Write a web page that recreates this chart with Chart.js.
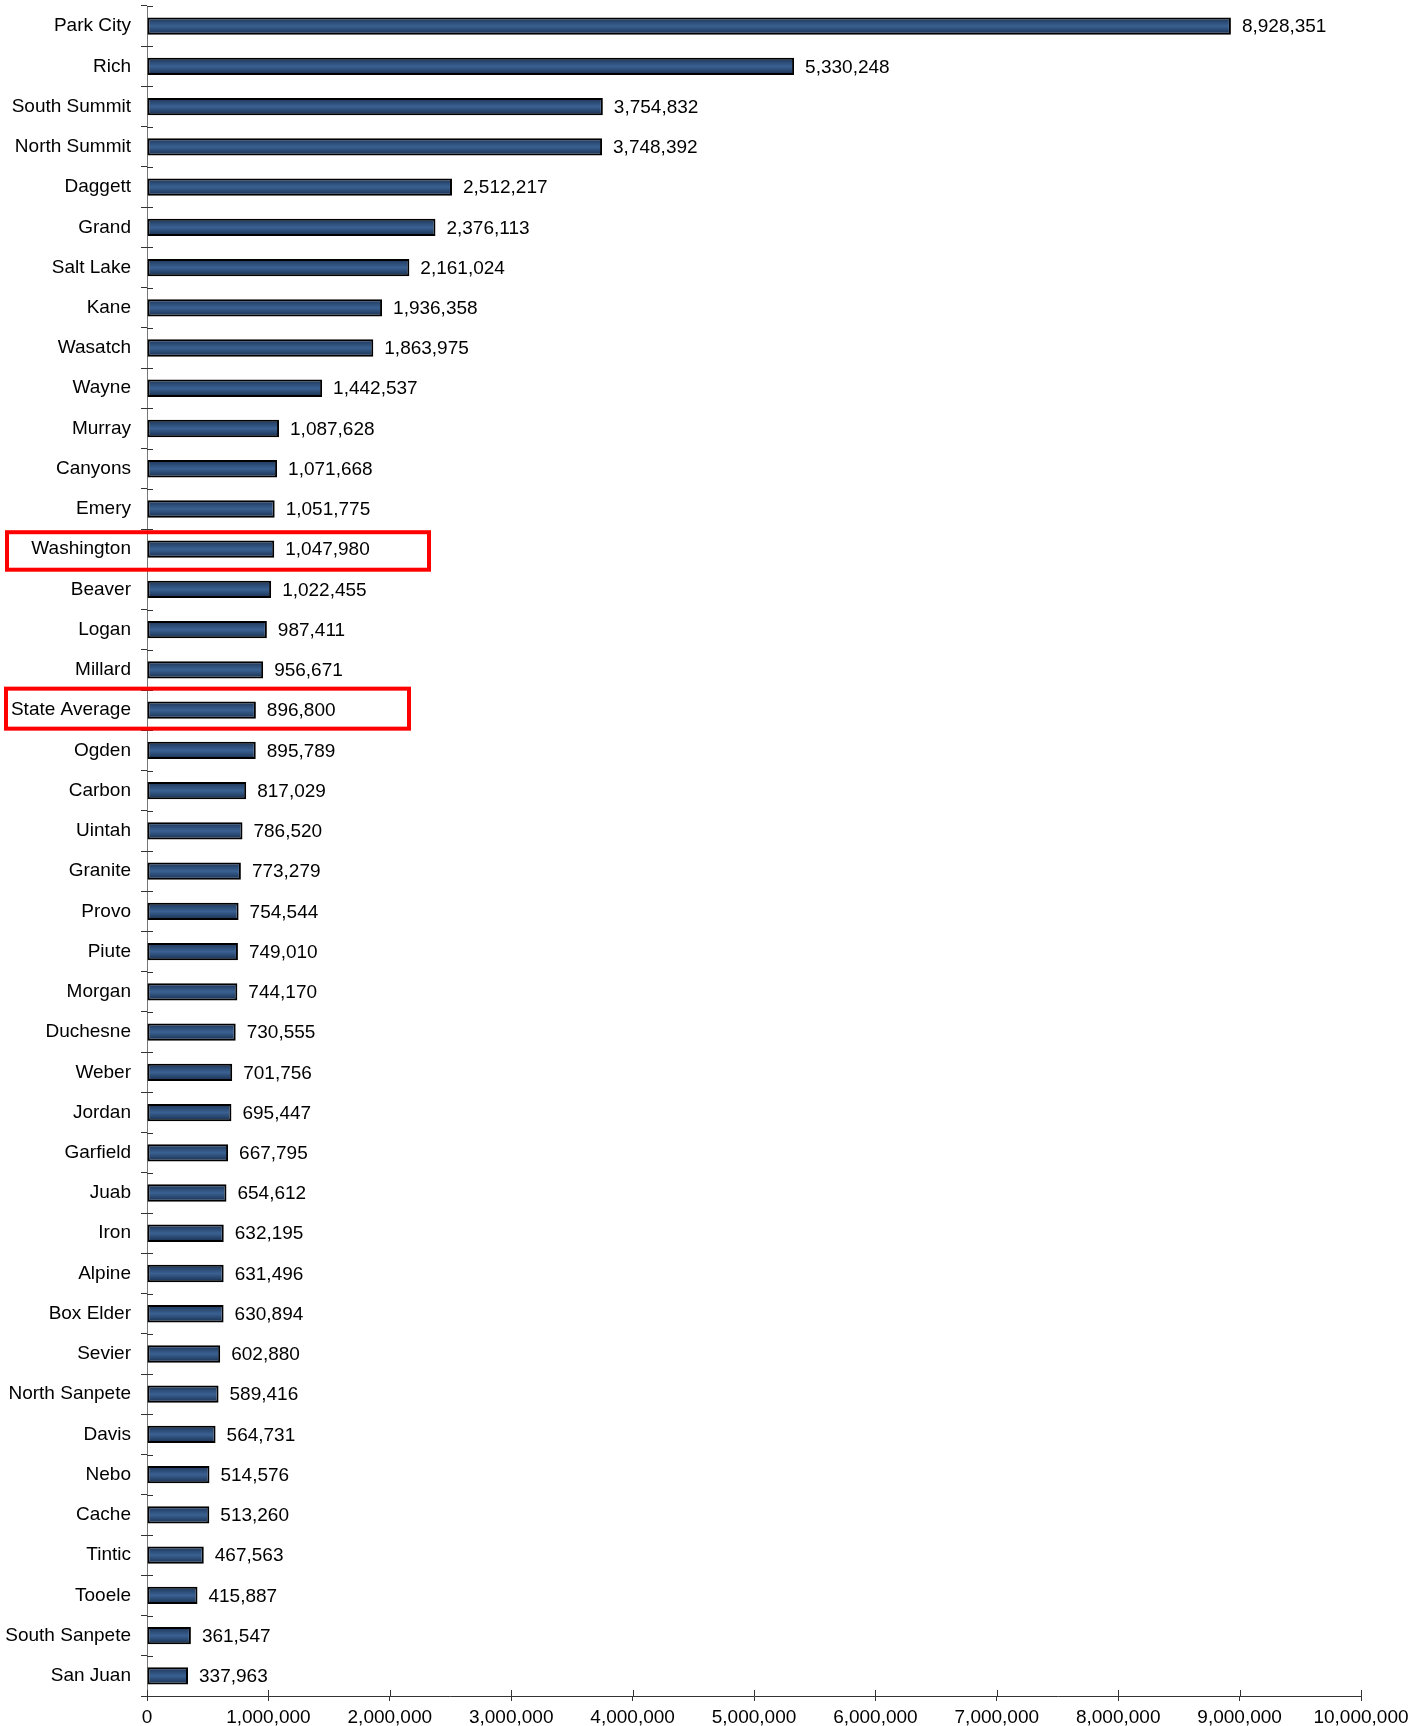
<!DOCTYPE html>
<html>
<head>
<meta charset="utf-8">
<script src="https://cdn.jsdelivr.net/npm/chart.js@4/dist/chart.umd.min.js"></script>
<style>
  html, body { margin: 0; padding: 0; background: #fff; }
  canvas { display: block; }
</style>
</head>
<body>
<canvas id="c" width="1421" height="1726"></canvas>
<script>
const categories = [
  "Park City", "Rich", "South Summit", "North Summit", "Daggett", "Grand",
  "Salt Lake", "Kane", "Wasatch", "Wayne", "Murray", "Canyons", "Emery",
  "Washington", "Beaver", "Logan", "Millard", "State Average", "Ogden",
  "Carbon", "Uintah", "Granite", "Provo", "Piute", "Morgan", "Duchesne",
  "Weber", "Jordan", "Garfield", "Juab", "Iron", "Alpine", "Box Elder",
  "Sevier", "North Sanpete", "Davis", "Nebo", "Cache", "Tintic", "Tooele",
  "South Sanpete", "San Juan"
];
const values = [
  8928351, 5330248, 3754832, 3748392, 2512217, 2376113,
  2161024, 1936358, 1863975, 1442537, 1087628, 1071668, 1051775,
  1047980, 1022455, 987411, 956671, 896800, 895789,
  817029, 786520, 773279, 754544, 749010, 744170, 730555,
  701756, 695447, 667795, 654612, 632195, 631496, 630894,
  602880, 589416, 564731, 514576, 513260, 467563, 415887,
  361547, 337963
];
const xTickValues = [0, 1000000, 2000000, 3000000, 4000000, 5000000, 6000000, 7000000, 8000000, 9000000, 10000000];
const highlighted = ["Washington", "State Average"];

const FONT = '"Liberation Sans", Arial, sans-serif';
const FSIZE = 19;
const fmt = v => v.toLocaleString('en-US');

function barGradient(ctx) {
  const chart = ctx.chart;
  const ys = chart.scales.y;
  if (!ys || !chart.chartArea) return '#2c4c78';
  const cy = ys.getPixelForValue(ctx.dataIndex);
  const h = 17;
  const g = chart.ctx.createLinearGradient(0, cy - h / 2, 0, cy + h / 2);
  g.addColorStop(0, '#1c3456');
  g.addColorStop(0.5, '#3a6192');
  g.addColorStop(1, '#172d4c');
  return g;
}

const valueLabels = {
  id: 'valueLabels',
  afterDatasetsDraw(chart) {
    const c = chart.ctx;
    const meta = chart.getDatasetMeta(0);
    c.save();
    c.font = FSIZE + 'px ' + FONT;
    c.fillStyle = '#000';
    c.textAlign = 'left';
    c.textBaseline = 'middle';
    meta.data.forEach((bar, i) => {
      c.fillText(fmt(values[i]), bar.x + 11, bar.y + 1);
    });
    c.restore();
  }
};

const innerTicks = {
  id: 'innerTicks',
  afterDraw(chart) {
    const c = chart.ctx;
    const xs = chart.scales.x, ys = chart.scales.y;
    c.save();
    c.strokeStyle = '#333';
    c.lineWidth = 1;
    c.beginPath();
    for (let i = 0; i <= categories.length; i++) {
      const py = Math.round(ys.getPixelForValue(i - 0.5)) + 0.5;
      c.moveTo(xs.left, py);
      c.lineTo(xs.left + 6, py);
    }
    xTickValues.forEach(v => {
      const px = Math.round(xs.getPixelForValue(v)) + 0.5;
      c.moveTo(px, ys.bottom);
      c.lineTo(px, ys.bottom - 6);
    });
    c.stroke();
    c.restore();
  }
};

const highlightBoxes = {
  id: 'highlightBoxes',
  afterDraw(chart, args, opts) {
    const c = chart.ctx;
    const ys = chart.scales.y;
    c.save();
    c.strokeStyle = '#ff0000';
    c.lineWidth = 4;
    opts.boxes.forEach(b => {
      const i = categories.indexOf(b.label);
      const cy = ys.getPixelForValue(i);
      c.strokeRect(b.left, cy + b.top, b.right - b.left, b.bottom - b.top);
    });
    c.restore();
  }
};

new Chart(document.getElementById('c'), {
  type: 'bar',
  data: {
    labels: categories,
    datasets: [{
      data: values,
      backgroundColor: barGradient,
      borderColor: '#000',
      borderWidth: 2,
      borderSkipped: false,
      barPercentage: 0.43,
      categoryPercentage: 1
    }]
  },
  options: {
    indexAxis: 'y',
    responsive: false,
    animation: false,
    devicePixelRatio: 1,
    layout: { padding: { left: 0, right: 60, top: 6, bottom: 0 } },
    plugins: {
      legend: { display: false },
      tooltip: { enabled: false },
      highlightBoxes: {
        boxes: [
          { label: highlighted[0], left: 7, right: 429, top: -17, bottom: 20.5 },
          { label: highlighted[1], left: 6, right: 409, top: -21.5, bottom: 18.5 }
        ]
      }
    },
    scales: {
      x: {
        type: 'linear',
        min: 0,
        max: 10000000,
        afterBuildTicks(scale) { scale.ticks = xTickValues.map(v => ({ value: v })); },
        afterFit(scale) { scale.height = 30; scale.paddingLeft = 0; },
        ticks: {
          autoSkip: false,
          maxRotation: 0,
          padding: 5,
          color: '#000',
          font: { size: FSIZE, family: FONT },
          callback: v => fmt(v)
        },
        grid: { drawOnChartArea: false, tickLength: 5, color: '#333' },
        border: { color: '#333', width: 1 }
      },
      y: {
        type: 'category',
        afterFit(scale) { scale.width = 147; scale.paddingTop = 0; scale.paddingBottom = 0; },
        ticks: {
          autoSkip: false,
          padding: 10,
          color: '#000',
          font: { size: FSIZE, family: FONT }
        },
        grid: { drawOnChartArea: false, tickLength: 6, color: '#333', offset: true },
        border: { color: '#777', width: 1 }
      }
    }
  },
  plugins: [valueLabels, innerTicks, highlightBoxes]
});
</script>
</body>
</html>
